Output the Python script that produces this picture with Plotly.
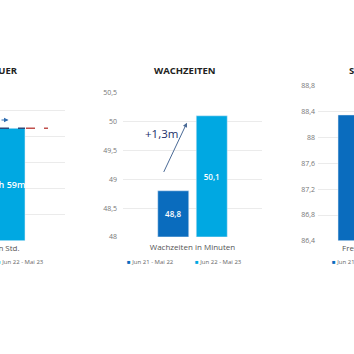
import plotly.graph_objects as go

W = H = 354

# ---- data ----
series_names = ["Jun 21 - Mai 22", "Jun 22 - Mai 23"]
colors = ["rgb(10,108,190)", "rgb(0,168,226)"]

sleep_cat = ["Schlafdauer in Std."]
sleep_vals = [7.983, 7.983]          # hours (7h 59m)
sleep_text = ["7h 59m", "7h 59m"]
sleep_min = 7.55

wake_cat = ["Wachzeiten in Minuten"]
wake_vals = [48.8, 50.1]
wake_ticks = [48, 48.5, 49, 49.5, 50, 50.5]
wake_ticktext = ["48", "48,5", "49", "49,5", "50", "50,5"]

eff_cat = ["Frequenz in %"]
eff_vals = [88.35, 88.2]
eff_ticks = [86.4, 86.8, 87.2, 87.6, 88.0, 88.4, 88.8]
eff_ticktext = ["86,4", "86,8", "87,2", "87,6", "88", "88,4", "88,8"]

titles = ["SCHLAFDAUER", "WACHZEITEN", "SCHLAFEFFIZIENZ"]

FONT = "Open Sans"
def px(x): return x / W
def py(y): return 1 - y / H
def de(v): return f"{v:.1f}".replace(".", ",")

fig = go.Figure()

def add_bars(cat, vals, texts, base, xa, ya, size, tpos="inside"):
    for i in range(2):
        fig.add_trace(go.Bar(x=cat, y=[vals[i] - base], base=[base], name=series_names[i],
                             marker_color=colors[i], text=[texts[i]],
                             textposition=tpos, insidetextanchor="middle",
                             textangle=0, constraintext="none",
                             textfont=dict(color="white", size=size, family=FONT, weight=600),
                             hovertemplate=f"{series_names[i]}: {texts[i]}<extra></extra>",
                             xaxis=xa, yaxis=ya, showlegend=False))

add_bars(sleep_cat, sleep_vals, sleep_text, sleep_min, "x", "y", 9)
add_bars(wake_cat, wake_vals, [de(v) for v in wake_vals], wake_ticks[0], "x2", "y2", 8)
add_bars(eff_cat, eff_vals, [de(v) for v in eff_vals], eff_ticks[0], "x3", "y3", 8, "none")

grid = "#ebebeb"
tickfont = dict(size=7, color="#777", family=FONT)
fig.update_layout(
    width=W, height=H, margin=dict(l=0, r=0, t=0, b=0),
    paper_bgcolor="white", plot_bgcolor="white",
    separators=",.", barmode="group", bargap=0.446, bargroupgap=0.195,
    font=dict(family=FONT),
    xaxis=dict(domain=[0, px(65)], range=[0.0702, 0.5378], showticklabels=False,
               showgrid=False, zeroline=False, showline=False),
    yaxis=dict(domain=[py(242), py(82)], range=[7.55, 8.15], tick0=7.55, dtick=0.1,
               showticklabels=False, gridcolor=grid, zeroline=False, anchor="x"),
    xaxis2=dict(domain=[px(123), px(262)], range=[-0.5, 0.5], anchor="y2",
                showgrid=False, zeroline=False, ticklabelstandoff=4,
                tickfont=dict(size=8, color="#555", family=FONT)),
    yaxis2=dict(domain=[py(238), py(90)], range=[48, 50.5], tickvals=wake_ticks,
                ticktext=wake_ticktext, gridcolor=grid, zeroline=False, anchor="x2",
                tickfont=tickfont, ticklabelstandoff=5),
    xaxis3=dict(domain=[px(318), 1], range=[-0.394, -0.135], anchor="y3",
                showticklabels=False, showgrid=False, zeroline=False),
    yaxis3=dict(domain=[py(242), py(83)], range=[86.4, 88.8001], tickvals=eff_ticks,
                ticktext=eff_ticktext, gridcolor=grid, zeroline=False, anchor="x3",
                tickfont=tickfont, ticklabelstandoff=2),
)

ann = []
# titles
ann.append(dict(text=f"<b>{titles[0]}</b>", x=px(19.5), y=py(67), xref="paper", yref="paper",
                xanchor="right", yanchor="middle", showarrow=False, font=dict(size=9.5, color="#222")))
ann.append(dict(text=f"<b>{titles[1]}</b>", x=px(185), y=py(67), xref="paper", yref="paper",
                xanchor="center", yanchor="middle", showarrow=False, font=dict(size=9.5, color="#222")))
ann.append(dict(text=f"<b>{titles[2]}</b>", x=px(346.5), y=py(67), xref="paper", yref="paper",
                xanchor="left", yanchor="middle", showarrow=False, font=dict(size=9.5, color="#222")))
# clipped category labels
ann.append(dict(text=sleep_cat[0], x=px(22), y=py(249), xref="paper", yref="paper",
                xanchor="right", yanchor="middle", showarrow=False, font=dict(size=8, color="#555")))
ann.append(dict(text=eff_cat[0], x=px(340), y=py(249), xref="paper", yref="paper",
                xanchor="left", yanchor="middle", showarrow=False, font=dict(size=8, color="#555")))
# legends
def leg(i, x, anchor):
    return dict(text=f"<span style='color:{colors[i]}'>■</span> {series_names[i]}",
                x=px(x), y=py(264), xref="paper", yref="paper", xanchor=anchor,
                yanchor="middle", showarrow=False, font=dict(size=6, color="#666"))
ann.append(leg(1, 46, "right"))
ann.append(leg(0, 125, "left"))
ann.append(leg(1, 193, "left"))
ann.append(leg(0, 330, "left"))
# middle change arrow and label
diff = wake_vals[1] - wake_vals[0]
ann.append(dict(x=-0.040, y=49.98, ax=-0.212, ay=49.10, xref="x2", yref="y2",
                axref="x2", ayref="y2", text="", showarrow=True, arrowhead=2,
                arrowsize=0.9, arrowwidth=1, arrowcolor="#4a6a96"))
ann.append(dict(text="+" + de(diff) + "m", x=-0.225, y=49.79, xref="x2", yref="y2",
                showarrow=False, font=dict(size=11.5, color="#22306a")))
# left arrow
ann.append(dict(x=px(8.5), y=py(118), xref="paper", yref="paper", ax=-40, ay=0,
                text="", showarrow=True, arrowhead=2, arrowsize=0.9, arrowwidth=1,
                arrowcolor="#2f6db0"))
fig.update_layout(annotations=ann)

fig.update_layout(shapes=[
    dict(type="line", xref="paper", yref="y", x0=0, x1=px(25), y0=sleep_vals[1], y1=sleep_vals[1],
         line=dict(color="#2d4a7a", width=1.5, dash="dash")),
    dict(type="line", xref="paper", yref="y", x0=px(26), x1=px(48), y0=sleep_vals[1], y1=sleep_vals[1],
         line=dict(color="#c0504d", width=1.5, dash="dash")),
])

fig.write_html("out.html")
